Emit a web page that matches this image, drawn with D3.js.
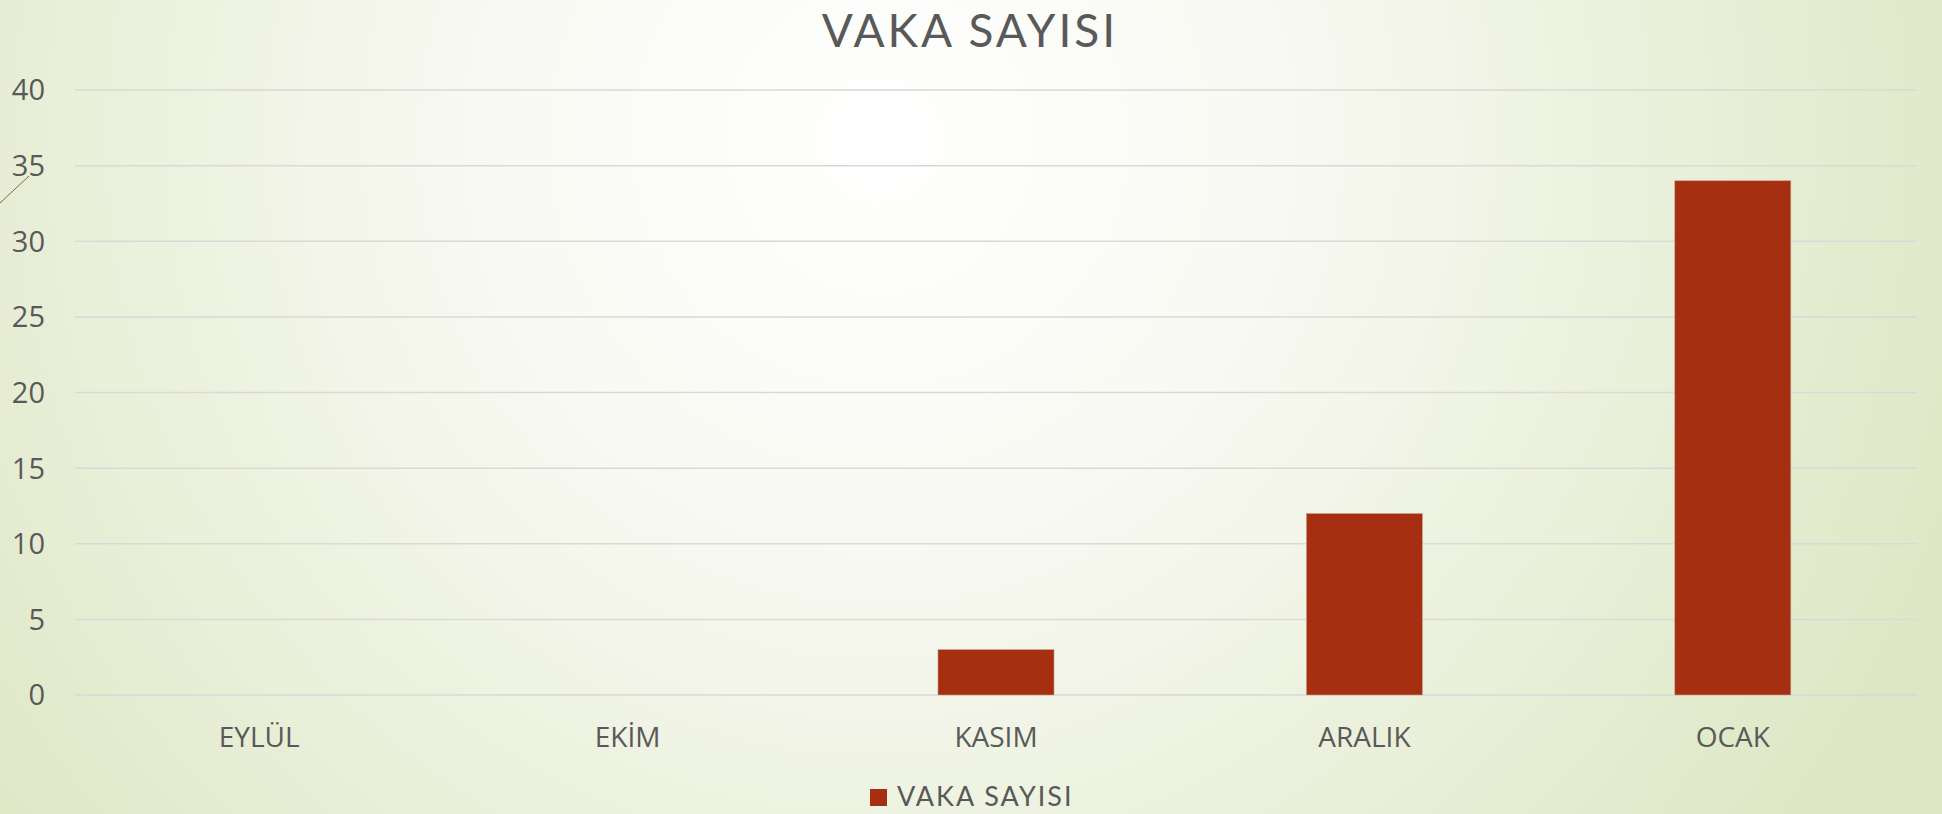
<!DOCTYPE html>
<html>
<head>
<meta charset="utf-8">
<script src="https://cdn.jsdelivr.net/npm/d3@7"></script>
<style>
  html, body { margin: 0; padding: 0; overflow: hidden; }
  .lbl { font-family: "Open Sans", "Noto Sans", sans-serif; fill: #595959; }
  .ttl { font-family: Lato, "Open Sans", sans-serif; fill: #595959; }
</style>
</head>
<body>
<div id="chart"></div>
<script>
// data
var months = ["EYLÜL", "EKİM", "KASIM", "ARALIK", "OCAK"];
var cases = [0, 0, 3, 12, 34];
var yTicks = [0, 5, 10, 15, 20, 25, 30, 35, 40];
var seriesName = "VAKA SAYISI";

var W = 1942, H = 814;
var margin = {top: 90, right: 25, bottom: 119, left: 75};
var width = W - margin.left - margin.right,
    height = H - margin.top - margin.bottom;

var svg = d3.select("#chart").append("svg")
    .attr("width", W)
    .attr("height", H);

// background gradient (slide theme)
var defs = svg.append("defs");
var grad = defs.append("radialGradient")
    .attr("id", "bg")
    .attr("gradientUnits", "userSpaceOnUse")
    .attr("cx", 880).attr("cy", 140).attr("r", 1150);
grad.append("stop").attr("offset", "0").attr("stop-color", "#ffffff");
grad.append("stop").attr("offset", "0.35").attr("stop-color", "#f8f9f2");
grad.append("stop").attr("offset", "1").attr("stop-color", "#dde7c4");

svg.append("rect")
    .attr("width", W).attr("height", H)
    .attr("fill", "url(#bg)");

// little decorative stroke at the left edge
svg.append("line")
    .attr("x1", 0).attr("y1", 203)
    .attr("x2", 29).attr("y2", 176)
    .attr("stroke", "#7a6a4a")
    .attr("stroke-width", 1);

var g = svg.append("g")
    .attr("transform", "translate(" + margin.left + "," + margin.top + ")");

var x = d3.scaleBand()
    .domain(months)
    .range([0, width])
    .padding(0);

var y = d3.scaleLinear()
    .domain([0, 40])
    .range([height, 0]);

var barW = x.bandwidth() * 0.315;

// gridlines
g.selectAll(".grid")
    .data(yTicks)
    .enter().append("line")
    .attr("class", "grid")
    .attr("x1", 0)
    .attr("x2", width)
    .attr("y1", function(d) { return y(d); })
    .attr("y2", function(d) { return y(d); })
    .attr("stroke", "#d9d9d9")
    .attr("stroke-width", 1.5);

// y labels
g.selectAll(".ylbl")
    .data(yTicks)
    .enter().append("text")
    .attr("class", "lbl ylbl")
    .attr("x", -30)
    .attr("y", function(d) { return y(d); })
    .attr("dy", "0.36em")
    .attr("text-anchor", "end")
    .style("font-size", "29px")
    .text(function(d) { return d; });

// bars
g.selectAll(".bar")
    .data(months)
    .enter().append("rect")
    .attr("class", "bar")
    .attr("x", function(d) { return x(d) + (x.bandwidth() - barW) / 2; })
    .attr("y", function(d, i) { return y(cases[i]); })
    .attr("width", barW)
    .attr("height", function(d, i) { return height - y(cases[i]); })
    .attr("fill", "#a52f10")
    .attr("stroke", function(d, i) { return cases[i] > 0 ? "#c9a48c" : "none"; })
    .attr("stroke-width", 0.6);

// x labels
g.selectAll(".xlbl")
    .data(months)
    .enter().append("text")
    .attr("class", "lbl xlbl")
    .attr("x", function(d) { return x(d) + x.bandwidth() / 2; })
    .attr("y", height + 52)
    .attr("text-anchor", "middle")
    .style("font-size", "28px")
    .text(function(d) { return d; });

// title
svg.append("text")
    .attr("class", "ttl")
    .attr("x", 970)
    .attr("y", 47)
    .attr("text-anchor", "middle")
    .style("font-size", "46px")
    .style("letter-spacing", "3px")
    .text(seriesName);

// legend
var leg = svg.append("g").attr("transform", "translate(870,789)");
leg.append("rect")
    .attr("width", 17).attr("height", 17)
    .attr("fill", "#a52f10");
leg.append("text")
    .attr("class", "ttl")
    .attr("x", 27)
    .attr("y", 17)
    .style("font-size", "27px")
    .style("letter-spacing", "2px")
    .text(seriesName);
</script>
</body>
</html>
